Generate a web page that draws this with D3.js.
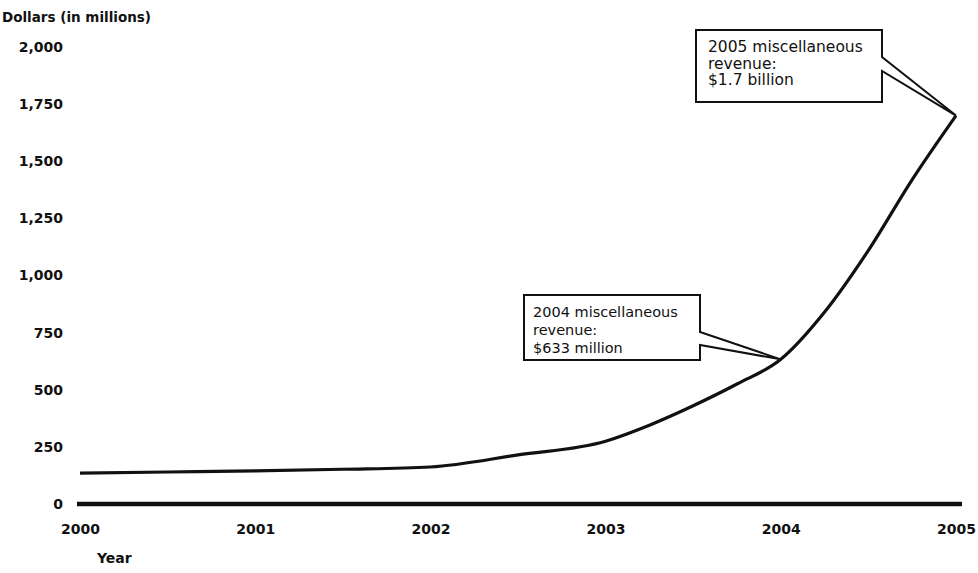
<!DOCTYPE html>
<html>
<head>
<meta charset="utf-8">
<script src="https://cdn.jsdelivr.net/npm/d3@7"></script>
<style>
  html, body { margin: 0; padding: 0; background: #fff; }
  svg { display: block; font-family: "DejaVu Sans", Verdana, sans-serif; }
</style>
</head>
<body>
<svg id="chart" width="978" height="573"></svg>
<script>
// Miscellaneous revenue, dollars in millions, quarterly points
const years  = [2000, 2000.5, 2001, 2001.5, 2002, 2002.5, 2003, 2003.25, 2003.5, 2003.75, 2004, 2004.25, 2004.5, 2004.75, 2005];
const values = [135, 140, 145, 152, 162, 215, 275, 345, 430, 525, 633, 840, 1110, 1420, 1700];

const yTicks = [0, 250, 500, 750, 1000, 1250, 1500, 1750, 2000];
const xTicks = [2000, 2001, 2002, 2003, 2004, 2005];

const notes = [
  { year: 2005, value: 1700, lines: ["2005 miscellaneous", "revenue:", "$1.7 billion"] },
  { year: 2004, value: 633,  lines: ["2004 miscellaneous", "revenue:", "$633 million"] }
];

const svg = d3.select("#chart");
const x = d3.scaleLinear().domain([2000, 2005]).range([80, 956]);
const y = d3.scaleLinear().domain([0, 2000]).range([504, 47]);

const FONT = "DejaVu Sans, Verdana, sans-serif";

// Axis title
svg.append("text")
  .attr("x", 2).attr("y", 22)
  .attr("font-size", 13.5).attr("font-weight", "bold").attr("fill", "#111")
  .text("Dollars (in millions)");

// Y tick labels (no axis line)
const yAxis = d3.axisLeft(y).tickValues(yTicks).tickSize(0).tickPadding(0)
  .tickFormat(d3.format(","));
const gy = svg.append("g").attr("transform", "translate(63,0)").call(yAxis);
gy.select(".domain").remove();
gy.selectAll("text")
  .attr("font-size", 14).attr("font-weight", "bold").attr("fill", "#111")
  .attr("font-family", FONT);

// X tick labels
const xAxis = d3.axisBottom(x).tickValues(xTicks).tickSize(0).tickPadding(0)
  .tickFormat(d3.format("d"));
const gx = svg.append("g").attr("transform", "translate(0,524)").call(xAxis);
gx.select(".domain").remove();
gx.selectAll("text")
  .attr("font-size", 14).attr("font-weight", "bold").attr("fill", "#111")
  .attr("font-family", FONT);

svg.append("text")
  .attr("x", 97).attr("y", 563)
  .attr("font-size", 14).attr("font-weight", "bold").attr("fill", "#111")
  .text("Year");

// Zero baseline
svg.append("line")
  .attr("x1", x(2000) - 3).attr("x2", x(2005) + 6)
  .attr("y1", y(0)).attr("y2", y(0))
  .attr("stroke", "#111").attr("stroke-width", 4.5);

// Revenue line
const pts = years.map((yr, i) => [yr, values[i]]);
svg.append("path")
  .datum(pts)
  .attr("fill", "none").attr("stroke", "#111").attr("stroke-width", 3.2)
  .attr("stroke-linejoin", "round")
  .attr("d", d3.line().x(d => x(d[0])).y(d => y(d[1])).curve(d3.curveMonotoneX));

// Callout boxes with a wedge pointing at the annotated point
const boxes = [
  { left: 696, top: 30,  right: 882, bottom: 102, n1: 57,  n2: 71,  size: 15.5, pad: 12, first: 22, step: 16.5 },
  { left: 524, top: 295, right: 700, bottom: 360, n1: 332, n2: 345, size: 14.5, pad: 9,  first: 22, step: 18 }
];
notes.forEach((n, i) => {
  const b = boxes[i];
  const px = x(n.year), py = y(n.value);
  const path = `M${b.left},${b.top} H${b.right} V${b.n1} L${px},${py} L${b.right},${b.n2} V${b.bottom} H${b.left} Z`;
  svg.append("path")
    .attr("d", path)
    .attr("fill", "#fff").attr("stroke", "#111").attr("stroke-width", 2)
    .attr("stroke-linejoin", "miter");
  const t = svg.append("text")
    .attr("font-size", b.size).attr("fill", "#111").attr("font-family", FONT);
  n.lines.forEach((s, k) => {
    t.append("tspan").attr("x", b.left + b.pad).attr("y", b.top + b.first + k * b.step).text(s);
  });
});
</script>
</body>
</html>
